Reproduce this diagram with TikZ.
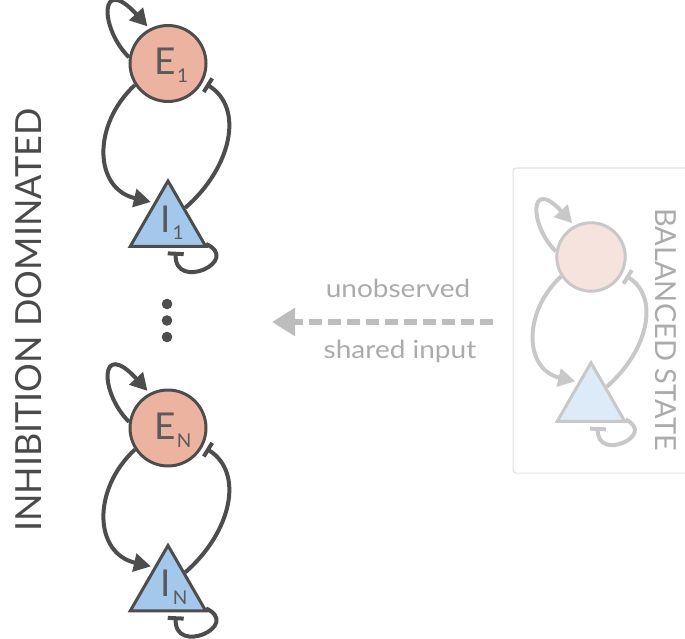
\documentclass[tikz,border=0pt]{standalone}
\usepackage{fontspec}
\setmainfont{Lato}
\newfontfamily\widefont[FakeStretch=1.12]{Lato}
\usetikzlibrary{arrows.meta,shapes.geometric}
\definecolor{mainstroke}{HTML}{4D4D4D}
\definecolor{mainefill}{HTML}{EDB3A1}
\definecolor{mainifill}{HTML}{A4C8EC}
\definecolor{palestroke}{HTML}{C8C8C8}
\definecolor{paleefill}{HTML}{F7E3DD}
\definecolor{paleifill}{HTML}{DDEAF8}
\definecolor{labelc}{HTML}{5A5A5A}
\definecolor{titlec}{HTML}{4A4A4A}
\definecolor{greyc}{HTML}{ABABAB}
\definecolor{dashc}{HTML}{BDBDBD}
\definecolor{boxc}{HTML}{E2E2E2}
\newcommand\subs[1]{\raisebox{-8pt}{\fontsize{19}{19}\selectfont #1}}
\newcommand\Motif[4]{% #1 prefix, #2 circle centre, #3 scale, #4 colour set
\begin{scope}[shift={#2}, scale=#3]
\node[ecirc=#4, minimum size=#3*76pt] (#1E) at (0,0) {};
\node[itri=#4, minimum size=#3*87pt] (#1I) at (0,161) {};
\draw[exc=#4] (#1E.171) .. controls +(-30,-30) and +(-50,-55) .. (#1E.118);
\draw[exc=#4] (#1E.213) .. controls +(-43,40) and +(-60,-14) .. (#1I.123);
\draw[inh=#4] (#1I.44) .. controls +(46,-40) and +(42,26) .. (#1E.-28);
\draw[inh=#4] (#1I.-27) .. controls +(36,17) and +(-2,44) .. (#1I.-71);
\end{scope}}
\begin{document}
\begin{tikzpicture}[x=1pt,y=-1pt,
  ecirc/.style={circle, draw=#1stroke, fill=#1efill, line width=3pt, inner sep=0pt},
  itri/.style={regular polygon, regular polygon sides=3, draw=#1stroke, fill=#1ifill, line width=3pt, inner sep=0pt},
  exc/.style={draw=#1stroke, line width=4pt, shorten >=3pt, -{Triangle[length=17pt,width=18pt]}},
  inh/.style={draw=#1stroke, line width=4pt, shorten >=4pt, -{Bar[width=16pt]}},
  lbl/.style={anchor=base, text=labelc, font=\fontsize{37}{37}\selectfont, inner sep=0pt},
  dotn/.style={circle, fill=mainstroke, inner sep=0pt, minimum size=10.6pt},
  greytext/.style={anchor=base, text=greyc, font=\widefont\fontsize{25}{25}\selectfont, inner sep=0pt},
  dasharr/.style={draw=dashc, line width=6pt, dash pattern=on 13pt off 6pt, -{Triangle[length=23pt,width=27pt]}}
]
\useasboundingbox (0,0) rectangle (685,639);
% balanced state box
\node[draw=boxc, line width=1.2pt, rounded corners=3pt, minimum width=180pt, minimum height=305pt, anchor=north west, inner sep=0pt] (balbox) at (512.5,167.5) {};
% motifs
\Motif{a}{(168,63.5)}{1}{main}
\Motif{b}{(168,428)}{1}{main}
\Motif{c}{(591,257)}{0.9}{pale}
% labels
\node[lbl] (aEt) at (171.5,75) {E\kern1pt\subs{1}};
\node[lbl] (aIt) at (172,232) {I\kern2pt\subs{1}};
\node[lbl] (bEt) at (173,439.5) {E\kern1pt\subs{N}};
\node[lbl] (bIt) at (174,596) {I\kern2pt\subs{N}};
% dots
\node[dotn] (d1) at (167,304) {};
\node[dotn] (d2) at (167,320.5) {};
\node[dotn] (d3) at (167,337) {};
% dashed arrow
\coordinate (arrS) at (493,322);
\coordinate (arrT) at (272,322);
\draw[dasharr] (arrS) -- (arrT);
\node[greytext] (t1) at (398,297) {unobserved};
\node[greytext] (t2) at (400,358) {shared input};
% titles
\node[rotate=90, text=titlec, font=\fontsize{36}{36}\selectfont, inner sep=0pt] (inhib) at (29,320) {INHIBITION DOMINATED};
\node[rotate=-90, text=greyc, font=\fontsize{29}{29}\selectfont, inner sep=0pt] (bal) at (666,329.5) {BALANCED STATE};
\end{tikzpicture}
\end{document}
